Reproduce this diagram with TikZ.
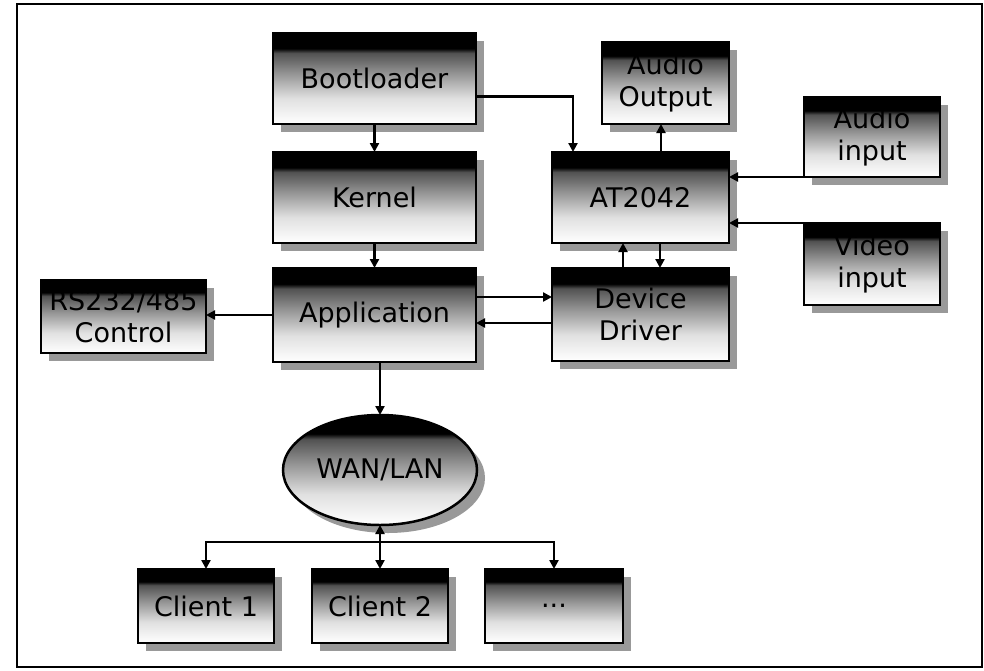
\documentclass[tikz,border=0pt]{standalone}
\usepackage{fontspec}
\setmainfont{DejaVu Sans}
\usetikzlibrary{arrows.meta,shapes.geometric,shadows,calc}
\pgfdeclareverticalshading{boxshade}{100bp}{color(0bp)=(white); color(25bp)=(white); color(39bp)=(black!12); color(52bp)=(black!40); color(64bp)=(black!68); color(66.5bp)=(black); color(100bp)=(black)}
\tikzset{
  blk/.style={draw=black, line width=2.5pt, shading=boxshade, inner sep=0pt, outer sep=0pt,
    drop shadow={shadow xshift=8pt, shadow yshift=-8pt, fill=black!40, opacity=1},
    align=center, font=\fontsize{27}{32}\selectfont, text=black},
  boxn/.style={blk, rectangle},
  ell/.style={blk, ellipse},
  arr/.style={line width=2.5pt, -{Triangle[length=9pt,width=9pt]}},
}
\begin{document}
\begin{tikzpicture}[x=1pt,y=-1pt]
\useasboundingbox (0,0) rectangle (984,670);
\draw[line width=2.5pt] (17,4) rectangle (982,667);

\node[boxn, minimum width=203pt, minimum height=91pt] (boot) at (374.5,78.5) {Bootloader};
\node[boxn, minimum width=203pt, minimum height=91pt] (kern) at (374.5,197.5) {Kernel};
\node[boxn, minimum width=203pt, minimum height=94pt] (app) at (374.5,315) {Application};
\node[boxn, minimum width=165pt, minimum height=73pt] (rs) at (123.5,316.5) {RS232/485\\Control};
\node[boxn, minimum width=127pt, minimum height=82pt] (aout) at (665.5,83) {Audio\\Output};
\node[boxn, minimum width=177pt, minimum height=91pt] (at) at (640.5,197.5) {AT2042};
\node[boxn, minimum width=136pt, minimum height=80pt] (ain) at (872,137) {Audio\\input};
\node[boxn, minimum width=136pt, minimum height=82pt] (vin) at (872,264) {Video\\input};
\node[boxn, minimum width=177pt, minimum height=93pt] (dd) at (640.5,314.5) {Device\\Driver};
\node[ell, minimum width=194pt, minimum height=110pt] (wan) at (380,470) {WAN/LAN};
\node[boxn, minimum width=136pt, minimum height=74pt] (c1) at (206,606) {Client 1};
\node[boxn, minimum width=136pt, minimum height=74pt] (c2) at (380,606) {Client 2};
\node[boxn, minimum width=138pt, minimum height=74pt] (c3) at (554,606) {...};

\draw[arr] ($(boot.east)+(0,18)$) -| ($(at.north west)+(21,0)$);
\draw[arr] (boot) -- (kern);
\draw[arr] (kern) -- (app);
\draw[arr] (app.west) -- (app.west -| rs.east);
\draw[arr] (at.north -| 661,0) -- (aout.south -| 661,0);
\draw[arr] (ain.south west) -- (ain.south west -| at.east);
\draw[arr] (vin.north west) -- (vin.north west -| at.east);
\draw[arr] ($(dd.north west)+(71,0)$) -- ($(at.south west)+(71,0)$);
\draw[arr] ($(at.south west)+(108,0)$) -- ($(dd.north west)+(108,0)$);
\coordinate (p1) at ($(app.north east)+(0,29)$);
\coordinate (p2) at ($(dd.north west)+(0,55)$);
\draw[arr] (p1) -- (p1 -| dd.west);
\draw[arr] (p2) -- (p2 -| app.east);
\draw[arr] (app.south -| wan.north) -- (wan.north);
\coordinate (j) at (380,542);
\draw[arr] (j) -- (wan.south);
\draw[arr] (j) -- (c2.north);
\draw[arr] (j) -| (c1.north);
\draw[arr] (j) -| (c3.north);
\end{tikzpicture}
\end{document}
